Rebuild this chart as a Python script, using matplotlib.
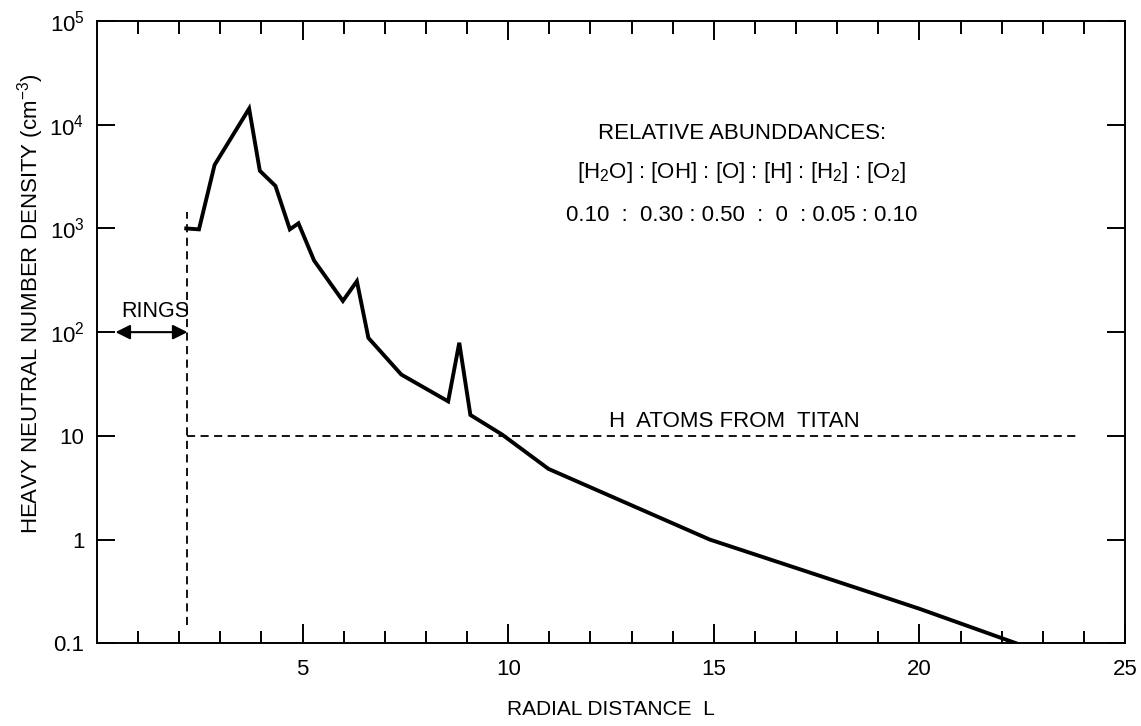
import matplotlib
matplotlib.use('Agg')
import matplotlib.pyplot as plt
from matplotlib.ticker import FixedLocator, NullLocator, FixedFormatter

plt.rcParams['font.family'] = ['Liberation Sans', 'DejaVu Sans']
plt.rcParams['mathtext.fontset'] = 'custom'
plt.rcParams['mathtext.rm'] = 'Liberation Sans'
plt.rcParams['mathtext.default'] = 'regular'

# heavy neutral density profile
radial_L = [2.17, 2.48, 2.86, 3.70, 3.96, 4.34, 4.69, 4.90, 5.28, 5.98, 6.32,
            6.60, 7.40, 8.54, 8.81, 9.08, 9.85, 10.98, 14.9, 18.9, 20.0, 22.35]
density = [1000, 980, 4100, 14300, 3600, 2570, 980, 1120, 490, 200, 310,
           88, 39, 21.5, 79, 15.9, 10.3, 4.8, 1.0, 0.30, 0.215, 0.1]

# H atoms from Titan level
titan_L = [2.2, 23.9]
titan_n = [10, 10]

# ring edge marker
ring_edge_L = [2.2, 2.2]
ring_edge_n = [0.15, 1450]

ytick_vals = [0.1, 1, 10, 100, 1e3, 1e4, 1e5]
ytick_labels = ['0.1', '1', '10', r'$10^2$', r'$10^3$', r'$10^4$', r'$10^5$']
xtick_vals = [5, 10, 15, 20, 25]

fig = plt.figure(figsize=(11.41, 7.26), dpi=100)
ax = fig.add_axes([0.085, 0.114, 0.901, 0.857])

ax.plot(radial_L, density, color='black', lw=2.8, solid_joinstyle='miter')
ax.plot(titan_L, titan_n, color='black', lw=1.3, dashes=(4.5, 3))
ax.plot(ring_edge_L, ring_edge_n, color='black', lw=1.3, dashes=(4.5, 3))

ax.set_yscale('log')
ax.set_xlim(0, 25)
ax.set_ylim(0.1, 1e5)

ax.yaxis.set_major_locator(FixedLocator(ytick_vals))
ax.yaxis.set_major_formatter(FixedFormatter(ytick_labels))
ax.yaxis.set_minor_locator(NullLocator())
ax.xaxis.set_major_locator(FixedLocator(xtick_vals))
ax.xaxis.set_minor_locator(FixedLocator(list(range(1, 25))))

ax.tick_params(which='both', direction='in', top=True, right=True, width=1.4,
               labelsize=16)
ax.tick_params(axis='y', which='major', length=13, pad=9)
ax.tick_params(axis='x', which='major', length=14, pad=11)
ax.tick_params(axis='x', which='minor', length=9)
for sp in ax.spines.values():
    sp.set_linewidth(1.4)

ax.set_xlabel('RADIAL DISTANCE  L', fontsize=15, labelpad=15)
ax.set_ylabel('HEAVY NEUTRAL NUMBER DENSITY (cm$^{-3}$)', fontsize=16)
ax.yaxis.set_label_coords(-0.050, 0.545)

# rings annotation
ax.annotate('', xy=(0.45, 100), xytext=(2.2, 100),
            arrowprops=dict(arrowstyle='<|-|>', color='black', lw=1.5,
                            mutation_scale=22, shrinkA=0, shrinkB=0))
ax.text(1.42, 125, 'RINGS', ha='center', va='bottom', fontsize=15.5)

ax.text(0.627, 0.820, 'RELATIVE ABUNDDANCES:', transform=ax.transAxes,
        ha='center', va='center', fontsize=16)
ax.text(0.627, 0.756, r'[H$_2$O] : [OH] : [O] : [H] : [H$_2$] : [O$_2$]',
        transform=ax.transAxes, ha='center', va='center', fontsize=16)
ax.text(0.627, 0.688, '0.10  :  0.30 : 0.50  :  0  : 0.05 : 0.10',
        transform=ax.transAxes, ha='center', va='center', fontsize=16)

ax.text(15.5, 10.9, 'H  ATOMS FROM  TITAN', ha='center', va='bottom', fontsize=16)

fig.savefig('out.png', dpi=100, facecolor='white')
